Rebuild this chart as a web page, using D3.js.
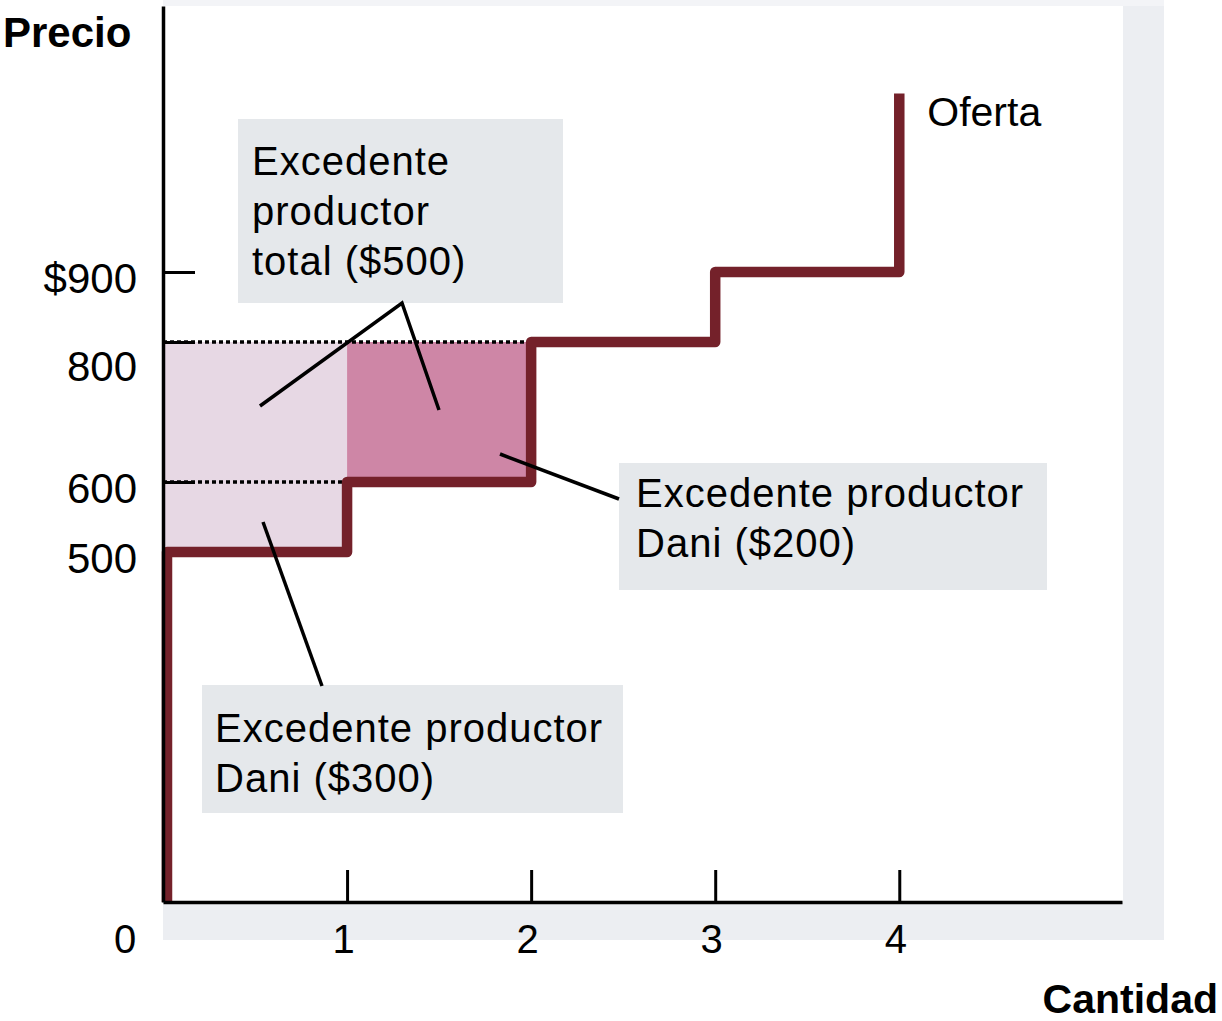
<!DOCTYPE html>
<html>
<head>
<meta charset="utf-8">
<script src="https://cdn.jsdelivr.net/npm/d3@7"></script>
<style>
  body { margin: 0; background: #fff; }
  svg { display: block; font-family: "Liberation Sans", Arial, sans-serif; }
</style>
</head>
<body>
<svg width="1222" height="1021"></svg>
<script>
// data
const unitCost = [500, 600, 800, 900];   // cost of unit 1..4
const marketPrice = 800;
const supplyTop = 1155;                  // where the "Oferta" line stops
const priceTicks = [500, 600, 800, 900];
const qtyTicks = [1, 2, 3, 4];
const surplusColors = ['#e7d8e4', '#ce86a6'];

// annotation boxes (layout only)
const notes = [
  { x: 238, y: 119, w: 325, h: 184, tx: 252, base: 175, lines: ['Excedente', 'productor', 'total ($500)'] },
  { x: 619, y: 463, w: 428, h: 127, tx: 636, base: 507, lines: ['Excedente productor', 'Dani ($200)'] },
  { x: 202, y: 685, w: 421, h: 128, tx: 215, base: 742, lines: ['Excedente productor', 'Dani ($300)'] }
];
const leaders = [
  [[260, 406], [402, 303], [439, 410]],
  [[500, 454], [619, 499]],
  [[263, 522], [322, 686]]
];

const svg = d3.select('svg');
const x = d3.scaleLinear().domain([0, 5.21]).range([163, 1122]);
const y = d3.scaleLinear().domain([0, 1280]).range([902, 6]);

// panel with soft grey frame
svg.append('rect').attr('x', 163).attr('y', 0).attr('width', 1001).attr('height', 940).attr('fill', '#eceef2');
svg.append('rect').attr('x', 163).attr('y', 0).attr('width', 1001).attr('height', 6).attr('fill', '#f3f4f7');
svg.append('rect').attr('x', 163).attr('y', 6).attr('width', 960).attr('height', 896).attr('fill', '#fff');

// producer surplus rectangles
const surplus = unitCost.map((c, i) => ({ q0: i, q1: i + 1, cost: c })).filter(d => d.cost < marketPrice);
svg.selectAll('rect.surplus')
  .data(surplus)
  .enter()
  .append('rect')
  .attr('class', 'surplus')
  .attr('x', d => x(d.q0))
  .attr('width', d => x(d.q1) - x(d.q0))
  .attr('y', y(marketPrice))
  .attr('height', d => y(d.cost) - y(marketPrice))
  .attr('fill', (d, i) => surplusColors[i]);

// dotted guides at price and costs
const guides = [{ p: marketPrice, q: surplus.length }].concat(surplus.slice(1).map(d => ({ p: d.cost, q: d.q0 })));
svg.selectAll('line.guide')
  .data(guides)
  .enter()
  .append('line')
  .attr('x1', x(0)).attr('x2', d => x(d.q))
  .attr('y1', d => y(d.p)).attr('y2', d => y(d.p))
  .attr('stroke', '#000').attr('stroke-width', 3.5)
  .attr('stroke-dasharray', '4 3');

// supply step line
const pts = [{ q: 0, p: 0 }];
unitCost.forEach((c, i) => {
  pts.push({ q: i, p: c });
  pts.push({ q: i + 1, p: c });
});
pts.push({ q: unitCost.length, p: supplyTop });

const line = d3.line()
  .x(d => d.q === 0 ? x(0) + 4 : x(d.q))
  .y(d => y(d.p));
svg.append('path')
  .attr('d', line(pts))
  .attr('fill', 'none')
  .attr('stroke', '#74212a')
  .attr('stroke-width', 10.5)
  .attr('stroke-linejoin', 'round');

// axes
const xAxis = svg.append('g')
  .attr('transform', `translate(0,${y(0)})`)
  .call(d3.axisBottom(x).tickValues(qtyTicks).tickSizeInner(-32).tickSizeOuter(0).tickPadding(23)
    .tickFormat(d3.format('d')));
const yAxis = svg.append('g')
  .attr('transform', `translate(${x(0)},0)`)
  .call(d3.axisLeft(y).tickValues(priceTicks).tickSizeInner(-32).tickSizeOuter(0).tickPadding(26)
    .tickFormat(d => d === 900 ? '$900' : d));

[xAxis, yAxis].forEach(g => {
  g.select('.domain').attr('stroke', '#000').attr('stroke-width', 3.5);
  g.selectAll('.tick line').attr('stroke', '#000').attr('stroke-width', 3);
  g.selectAll('text').attr('fill', '#000').attr('font-family', '"Liberation Sans", Arial, sans-serif');
});
// the 500 tick is hidden under the supply line in the original
yAxis.selectAll('.tick line').filter(d => d === 500).remove();
xAxis.selectAll('text').attr('font-size', 40).attr('dx', -4);
yAxis.selectAll('text').attr('font-size', 42)
  .attr('dy', d => d === 800 ? 38 : 20);   // 800 sits lower, below the dotted price line

svg.append('text').attr('x', 125).attr('y', 953).attr('text-anchor', 'middle')
  .attr('font-size', 40).text('0');

// axis titles
svg.append('text').attr('x', 3).attr('y', 47).attr('font-size', 42).attr('font-weight', 'bold').text('Precio');
svg.append('text').attr('x', 1218).attr('y', 1013).attr('text-anchor', 'end')
  .attr('font-size', 41).attr('font-weight', 'bold').text('Cantidad');
svg.append('text').attr('x', x(unitCost.length) + 28).attr('y', 126).attr('font-size', 41).text('Oferta');

// annotation boxes
const g = svg.selectAll('g.note')
  .data(notes)
  .enter()
  .append('g')
  .attr('class', 'note');
g.append('rect')
  .attr('x', d => d.x).attr('y', d => d.y)
  .attr('width', d => d.w).attr('height', d => d.h)
  .attr('fill', '#e5e8eb');
g.each(function (d) {
  d3.select(this).selectAll('text')
    .data(d.lines)
    .enter()
    .append('text')
    .attr('x', d.tx)
    .attr('y', (t, i) => d.base + i * 50)
    .attr('font-size', 40)
    .attr('letter-spacing', 1)
    .text(t => t);
});

svg.selectAll('path.leader')
  .data(leaders)
  .enter()
  .append('path')
  .attr('d', d => d3.line()(d))
  .attr('fill', 'none')
  .attr('stroke', '#000')
  .attr('stroke-width', 3.5);
</script>
</body>
</html>
